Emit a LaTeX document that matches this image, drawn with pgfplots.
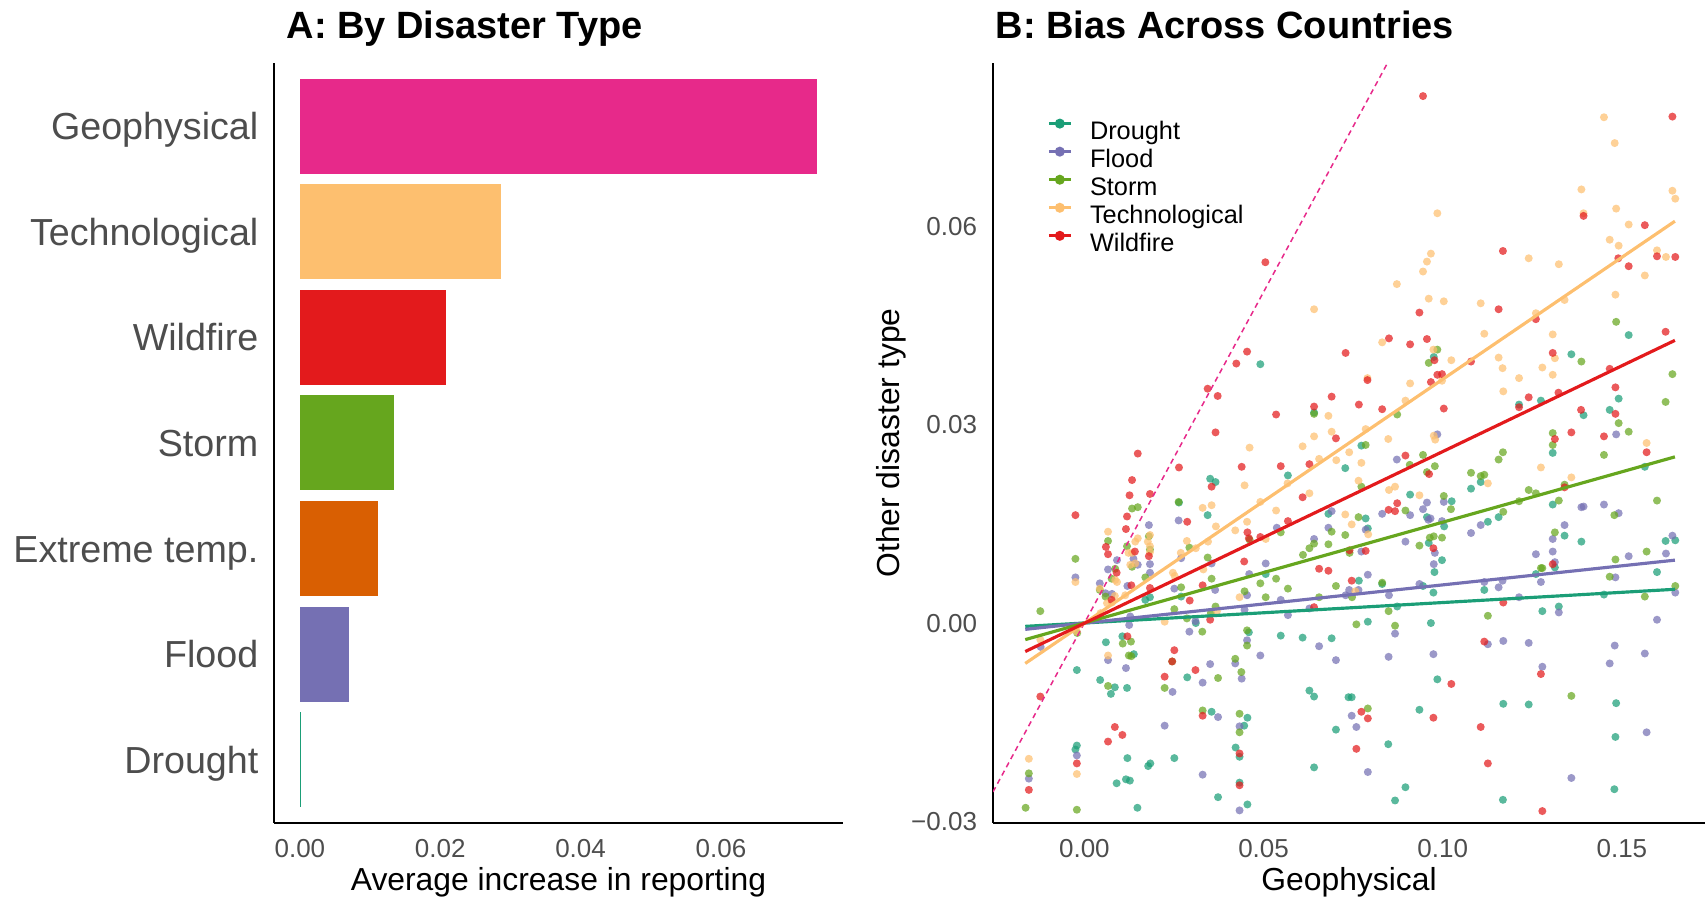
\documentclass[border=0pt]{standalone}
\usepackage{pgfplots}
\usepackage{pgfplotstable}
\pgfplotsset{compat=1.18}
\usepackage{fontspec}
\setmainfont{Liberation Sans}
\definecolor{cgeo}{HTML}{E7298A}
\definecolor{ctech}{HTML}{FDBF6F}
\definecolor{cwild}{HTML}{E31A1C}
\definecolor{cstorm}{HTML}{66A61E}
\definecolor{cext}{HTML}{D95F02}
\definecolor{cflood}{HTML}{7570B3}
\definecolor{cdrought}{HTML}{1B9E77}
\definecolor{ticktext}{HTML}{4D4D4D}

\pgfplotstableread{
x y
0.0351 0.0218
0.0366 0.0213
0.0264 0.0182
0.0344 0.0163
0.0183 0.0039
0.0170 0.0035
0.0270 0.0040
0.0311 0.0000
0.0060 -0.0029
0.0106 -0.0020
0.0138 -0.0047
-0.0021 -0.0071
0.0287 -0.0082
0.0044 -0.0086
0.0085 -0.0097
0.0074 -0.0107
0.0119 -0.0098
0.0355 -0.0134
-0.0021 -0.0185
-0.0025 -0.0191
0.0120 -0.0204
0.0251 -0.0204
0.0184 -0.0212
0.0178 -0.0216
0.0090 -0.0242
0.0116 -0.0236
0.0127 -0.0238
0.0373 -0.0263
0.0148 -0.0279
0.0491 0.0391
0.0975 0.0402
0.0641 0.0318
0.0773 0.0268
0.0728 0.0234
0.0568 0.0223
0.0909 0.0194
0.1025 0.0184
0.0681 0.0165
0.0785 0.0158
0.0956 0.0160
0.1004 0.0146
0.0791 0.0143
0.0961 0.0121
0.0998 0.0095
0.0977 0.0077
0.0506 0.0074
0.0766 0.0064
0.0831 0.0059
0.0945 0.0056
0.0974 0.0046
0.0873 0.0025
0.0459 -0.0014
0.0791 0.0002
0.0967 0.0000
0.0548 -0.0019
0.0609 -0.0022
0.0690 -0.0023
0.0985 -0.0085
0.0628 -0.0102
0.0641 -0.0111
0.0737 -0.0112
0.0746 -0.0112
0.0935 -0.0131
0.0455 -0.0143
0.0446 -0.0155
0.0702 -0.0161
0.0848 -0.0183
0.0422 -0.0188
0.0433 -0.0202
0.0641 -0.0218
0.0433 -0.0241
0.0896 -0.0248
0.0455 -0.0274
0.0867 -0.0268
0.1519 0.0435
0.1359 0.0406
0.1274 0.0336
0.1213 0.0330
0.1491 0.0339
0.1393 0.0314
0.1466 0.0322
0.1307 0.0257
0.1106 0.0213
0.1079 0.0203
0.1564 0.0236
0.1307 0.0179
0.1156 0.0160
0.1126 0.0153
0.1340 0.0132
0.1387 0.0123
0.1622 0.0124
0.1649 0.0125
0.1313 0.0084
0.1260 0.0074
0.1598 0.0077
0.1116 0.0050
0.1450 0.0043
0.1278 0.0018
0.1324 0.0025
0.1169 -0.0122
0.1240 -0.0123
0.1484 -0.0121
0.1482 -0.0172
0.1479 -0.0251
0.1168 -0.0267
}\drought

\pgfplotstableread{
x y
0.0180 0.0148
0.0263 0.0155
0.0137 0.0097
0.0091 0.0095
0.0270 0.0098
0.0149 0.0088
0.0183 0.0089
0.0066 0.0081
0.0355 0.0090
-0.0025 0.0069
0.0183 0.0076
0.0043 0.0060
0.0120 0.0056
0.0365 0.0050
0.0059 0.0045
0.0077 0.0044
0.0251 0.0052
0.0128 0.0010
0.0125 -0.0003
0.0310 0.0003
0.0293 -0.0013
-0.0122 -0.0036
0.0066 -0.0056
0.0351 -0.0062
0.0116 -0.0068
0.0330 -0.0090
0.0246 -0.0104
0.0373 -0.0142
0.0224 -0.0155
-0.0021 -0.0200
-0.0155 -0.0235
0.0330 -0.0229
0.0985 0.0285
0.0872 0.0247
0.0956 0.0182
0.1003 0.0183
0.0690 0.0169
0.0831 0.0165
0.0909 0.0163
0.0945 0.0172
0.0960 0.0156
0.0966 0.0158
0.0998 0.0154
0.0537 0.0144
0.0681 0.0144
0.0785 0.0141
0.0641 0.0127
0.0896 0.0123
0.0773 0.0108
0.0978 0.0106
0.0506 0.0090
0.0975 0.0089
0.0460 0.0074
0.0791 0.0073
0.0935 0.0059
0.0739 0.0050
0.0765 0.0050
0.0729 0.0042
0.0454 0.0042
0.0548 0.0035
0.0850 0.0042
0.0628 0.0022
0.0568 0.0012
0.0447 0.0020
0.0867 -0.0016
0.0655 -0.0035
0.0454 -0.0026
0.0491 -0.0049
0.0702 -0.0056
0.0849 -0.0051
0.0974 -0.0047
0.0421 -0.0061
0.0439 -0.0084
0.0746 -0.0140
0.0759 -0.0157
0.0433 -0.0156
0.0791 -0.0225
0.0433 -0.0283
0.1484 0.0285
0.1387 0.0175
0.1393 0.0176
0.1450 0.0179
0.1491 0.0166
0.1106 0.0148
0.1079 0.0136
0.1340 0.0148
0.1307 0.0127
0.1260 0.0104
0.1307 0.0108
0.1641 0.0132
0.1623 0.0105
0.1519 0.0101
0.1313 0.0092
0.1274 0.0062
0.1116 0.0062
0.1156 0.0054
0.1167 0.0064
0.1482 0.0069
0.1649 0.0046
0.1213 0.0039
0.1324 0.0016
0.1598 0.0005
0.1126 -0.0032
0.1169 -0.0027
0.1240 -0.0030
0.1480 -0.0034
0.1564 -0.0046
0.1466 -0.0061
0.1278 -0.0066
0.1569 -0.0165
0.1359 -0.0234
}\flood

\pgfplotstableread{
x y
0.0263 0.0183
0.0133 0.0173
0.0149 0.0175
0.0180 0.0131
0.0066 0.0124
0.0119 0.0116
0.0183 0.0111
0.0293 0.0114
-0.0025 0.0097
0.0344 0.0099
0.0133 0.0085
0.0086 0.0082
0.0170 0.0069
0.0076 0.0067
0.0043 0.0050
0.0355 0.0067
0.0270 0.0054
0.0059 0.0040
-0.0123 0.0018
0.0251 0.0021
0.0366 0.0025
0.0286 0.0007
0.0353 0.0015
0.0329 -0.0013
-0.0020 -0.0015
0.0107 -0.0031
0.0130 -0.0028
0.0124 -0.0049
0.0131 -0.0050
0.0245 -0.0058
0.0373 -0.0083
0.0066 -0.0095
0.0224 -0.0098
0.0330 -0.0132
-0.0155 -0.0227
-0.0164 -0.0279
-0.0021 -0.0282
0.0985 0.0413
0.0961 0.0393
0.0641 0.0316
0.0873 0.0315
0.0785 0.0269
0.0945 0.0254
0.0908 0.0239
0.0956 0.0228
0.0978 0.0237
0.0773 0.0206
0.1003 0.0192
0.0896 0.0170
0.0765 0.0160
0.1023 0.0172
0.0548 0.0137
0.0690 0.0138
0.0728 0.0133
0.0461 0.0126
0.0641 0.0120
0.0628 0.0113
0.0610 0.0103
0.0681 0.0119
0.0964 0.0129
0.0975 0.0131
0.0998 0.0129
0.0935 0.0117
0.0740 0.0106
0.0491 0.0060
0.0535 0.0067
0.0568 0.0052
0.0702 0.0056
0.0831 0.0061
0.0747 0.0039
0.0447 0.0048
0.0506 0.0039
0.0655 0.0039
0.0849 0.0018
0.0454 -0.0011
0.0759 -0.0002
0.0867 -0.0004
0.0454 -0.0034
0.0421 -0.0054
0.0438 -0.0074
0.0791 -0.0129
0.0433 -0.0137
0.0433 -0.0165
0.1484 0.0455
0.1387 0.0395
0.1641 0.0376
0.1622 0.0334
0.1491 0.0302
0.1519 0.0289
0.1307 0.0287
0.1307 0.0269
0.1168 0.0258
0.1156 0.0247
0.1450 0.0254
0.1079 0.0227
0.1106 0.0222
0.1116 0.0224
0.1340 0.0209
0.1240 0.0201
0.1260 0.0196
0.1213 0.0184
0.1324 0.0185
0.1479 0.0163
0.1598 0.0185
0.1169 0.0168
0.1313 0.0137
0.1569 0.0108
0.1482 0.0096
0.1274 0.0083
0.1278 0.0083
0.1466 0.0070
0.1649 0.0056
0.1564 0.0040
0.1126 0.0011
0.1359 -0.0110
}\storm

\pgfplotstableread{
x y
0.0330 0.0174
0.0355 0.0178
0.0367 0.0146
0.0066 0.0138
0.0149 0.0128
0.0183 0.0133
0.0142 0.0123
0.0286 0.0124
0.0177 0.0123
0.0183 0.0116
0.0311 0.0113
0.0345 0.0123
0.0123 0.0106
0.0133 0.0106
0.0183 0.0107
0.0269 0.0106
0.0142 0.0090
0.0128 0.0088
0.0332 0.0081
-0.0025 0.0062
0.0247 0.0076
0.0091 0.0062
0.0252 0.0071
0.0086 0.0065
0.0043 0.0052
0.0085 0.0041
0.0114 0.0042
0.0063 0.0030
0.0077 0.0031
0.0045 0.0015
0.0224 0.0002
0.0370 0.0018
-0.0123 -0.0025
-0.0021 -0.0013
0.0066 -0.0049
-0.0155 -0.0205
-0.0021 -0.0228
0.0985 0.0619
0.0967 0.0558
0.0956 0.0546
0.0945 0.0531
0.0872 0.0512
0.0961 0.0490
0.1003 0.0486
0.0641 0.0474
0.0831 0.0424
0.0974 0.0413
0.1024 0.0397
0.0790 0.0370
0.0909 0.0362
0.0998 0.0366
0.0681 0.0313
0.0896 0.0336
0.0785 0.0293
0.0641 0.0282
0.0690 0.0289
0.0848 0.0278
0.0975 0.0283
0.0979 0.0277
0.0461 0.0265
0.0609 0.0267
0.0655 0.0248
0.0703 0.0246
0.0739 0.0258
0.0773 0.0242
0.0447 0.0208
0.0567 0.0211
0.0765 0.0215
0.0850 0.0201
0.0867 0.0206
0.0935 0.0193
0.0628 0.0196
0.0491 0.0183
0.0535 0.0170
0.0728 0.0164
0.0454 0.0153
0.0746 0.0149
0.0421 0.0140
0.0506 0.0127
0.0792 0.0134
0.0756 0.0048
0.0433 0.0039
0.1450 0.0764
0.1480 0.0725
0.1387 0.0655
0.1641 0.0653
0.1649 0.0641
0.1484 0.0626
0.1393 0.0619
0.1519 0.0602
0.1466 0.0579
0.1491 0.0570
0.1240 0.0551
0.1324 0.0542
0.1598 0.0563
0.1623 0.0553
0.1564 0.0525
0.1482 0.0496
0.1106 0.0483
0.1340 0.0488
0.1260 0.0468
0.1116 0.0437
0.1307 0.0436
0.1156 0.0401
0.1167 0.0385
0.1313 0.0400
0.1278 0.0386
0.1307 0.0375
0.1213 0.0370
0.1169 0.0350
0.1569 0.0272
0.1126 0.0211
0.1274 0.0235
0.1359 0.0220
}\tech

\pgfplotstableread{
x y
0.0344 0.0354
0.0372 0.0343
0.0366 0.0288
0.0149 0.0256
0.0264 0.0235
0.0133 0.0216
0.0355 0.0206
0.0126 0.0193
0.0183 0.0195
-0.0025 0.0163
0.0119 0.0161
0.0287 0.0153
0.0116 0.0142
0.0060 0.0115
0.0066 0.0104
0.0141 0.0108
0.0180 0.0101
0.0090 0.0076
0.0131 0.0057
0.0330 0.0057
0.0183 0.0053
0.0076 0.0035
0.0294 0.0034
0.0351 0.0005
0.0120 -0.0020
0.0251 -0.0041
0.0245 -0.0058
0.0310 -0.0071
0.0224 -0.0081
-0.0123 -0.0111
0.0330 -0.0140
0.0085 -0.0157
0.0106 -0.0169
0.0066 -0.0179
-0.0021 -0.0212
-0.0155 -0.0252
0.0945 0.0796
0.0935 0.0469
0.0505 0.0545
0.0850 0.0430
0.0956 0.0429
0.0909 0.0421
0.0454 0.0410
0.0729 0.0408
0.0424 0.0392
0.0977 0.0397
0.0790 0.0367
0.0967 0.0364
0.0985 0.0375
0.0998 0.0376
0.0690 0.0342
0.0641 0.0327
0.0535 0.0315
0.0766 0.0330
0.0831 0.0323
0.1003 0.0324
0.0702 0.0279
0.0439 0.0236
0.0548 0.0237
0.0628 0.0240
0.0896 0.0253
0.0962 0.0225
0.0609 0.0190
0.0873 0.0181
0.0849 0.0171
0.0867 0.0169
0.0568 0.0154
0.0455 0.0137
0.0459 0.0128
0.0491 0.0130
0.0740 0.0110
0.0785 0.0109
0.0974 0.0113
0.0446 0.0093
0.0655 0.0082
0.0681 0.0079
0.0746 0.0064
0.0641 0.0024
0.1024 -0.0092
0.0773 -0.0134
0.0791 -0.0144
0.0974 -0.0143
0.0759 -0.0190
0.0433 -0.0197
0.0433 -0.0245
0.1641 0.0765
0.1393 0.0615
0.1564 0.0601
0.1168 0.0562
0.1598 0.0554
0.1649 0.0553
0.1490 0.0551
0.1519 0.0539
0.1156 0.0474
0.1260 0.0459
0.1622 0.0440
0.1079 0.0395
0.1307 0.0408
0.1466 0.0384
0.1482 0.0356
0.1240 0.0341
0.1323 0.0348
0.1213 0.0326
0.1386 0.0322
0.1482 0.0316
0.1450 0.0282
0.1359 0.0288
0.1313 0.0278
0.1569 0.0258
0.1340 0.0205
0.1307 0.0089
0.1169 0.0031
0.1116 -0.0028
0.1274 -0.0077
0.1106 -0.0157
0.1126 -0.0212
0.1278 -0.0284
}\wild

\begin{document}
\begin{tikzpicture}
\useasboundingbox (0,0) rectangle (511.5pt,269.7pt);
% ---------------- Panel A ----------------
\begin{axis}[
  at={(82.2pt,22.8pt)}, anchor=south west,
  width=170.7pt, height=228pt, scale only axis,
  xbar, bar width=0.9, bar shift=0pt,
  xmin=-0.00369, xmax=0.0774,
  ymin=0.4, ymax=7.6,
  axis x line*=bottom, axis y line*=left,
  axis line style={line width=0.8pt, -},
  major tick length=0pt,
  scaled ticks=false,
  every axis title shift=0pt,
  /pgf/number format/assume math mode=true,
  xtick={0,0.02,0.04,0.06},
  xticklabels={0.00,0.02,0.04,0.06},
  ytick={1,2,3,4,5,6,7},
  yticklabels={Drought,Flood,Extreme temp.,Storm,Wildfire,Technological,Geophysical},
  xticklabel style={font=\fontsize{7.8}{9}\selectfont, text=ticktext, anchor=north, inner sep=0pt, yshift=-4.8pt},
  yticklabel style={font=\fontsize{11.3}{13}\selectfont, text=ticktext, anchor=base east, inner sep=0pt, xshift=-4.5pt, yshift=-4.05pt},
  xlabel={Average increase in reporting},
  xlabel style={at={([yshift=-20.4pt]axis description cs:0.5,0)}, anchor=base, font=\fontsize{9.55}{11}\selectfont, inner sep=0pt},
  title={A: By Disaster Type},
  title style={at={([xshift=3.6pt,yshift=7.2pt]axis description cs:0,1)}, anchor=base west, font=\bfseries\fontsize{11.4}{13}\selectfont, inner sep=0pt},
]
\addplot[fill=cdrought, draw=none] coordinates {(0.00012,1)};
\addplot[fill=cflood, draw=none] coordinates {(0.0070,2)};
\addplot[fill=cext, draw=none] coordinates {(0.0112,3)};
\addplot[fill=cstorm, draw=none] coordinates {(0.0134,4)};
\addplot[fill=cwild, draw=none] coordinates {(0.0208,5)};
\addplot[fill=ctech, draw=none] coordinates {(0.0287,6)};
\addplot[fill=cgeo, draw=none] coordinates {(0.0737,7)};
\end{axis}
% ---------------- Panel B ----------------
\begin{axis}[
  at={(297.9pt,22.8pt)}, anchor=south west,
  width=213.6pt, height=228pt, scale only axis,
  xmin=-0.0255, xmax=0.1732,
  ymin=-0.0302, ymax=0.0846,
  axis x line*=bottom, axis y line*=left,
  axis line style={line width=0.8pt, -},
  major tick length=0pt,
  scaled ticks=false,
  every axis title shift=0pt,
  clip mode=individual,
  /pgf/number format/assume math mode=true,
  xtick={0,0.05,0.10,0.15},
  xticklabels={0.00,0.05,0.10,0.15},
  ytick={-0.03,0,0.03,0.06},
  yticklabels={−0.03,0.00,0.03,0.06},
  xticklabel style={font=\fontsize{7.8}{9}\selectfont, text=ticktext, anchor=north, inner sep=0pt, yshift=-4.8pt},
  yticklabel style={font=\fontsize{7.8}{9}\selectfont, text=ticktext, anchor=base east, inner sep=0pt, xshift=-4.6pt, yshift=-2.8pt},
  xlabel={Geophysical},
  xlabel style={at={([yshift=-20.4pt]axis description cs:0.5,0)}, anchor=base, font=\fontsize{9.55}{11}\selectfont, inner sep=0pt},
  ylabel={Other disaster type},
  ylabel style={at={([xshift=-28.2pt]axis description cs:0,0.5)}, anchor=base, rotate=0, font=\fontsize{9.55}{11}\selectfont, inner sep=0pt},
  title={B: Bias Across Countries},
  title style={at={([xshift=0.6pt,yshift=7.2pt]axis description cs:0,1)}, anchor=base west, font=\bfseries\fontsize{11.4}{13}\selectfont, inner sep=0pt},
  legend cell align=left,
  legend style={at={(axis description cs:0.0763,0.9267)}, anchor=north west,
    draw=none, fill=none, inner sep=0pt, outer sep=0pt,
    font=\fontsize{7.6}{9}\selectfont, row sep=0.7pt,
    nodes={inner sep=0pt, text height=5.44pt, text depth=1.6pt},
    /tikz/every odd column/.append style={column sep=5.3pt}},
  legend image code/.code={\draw[line width=0.9pt] (0pt,2.72pt) -- (6.6pt,2.72pt); \fill (3.3pt,2.72pt) circle (1.0pt);},
]
\addplot[only marks, mark=*, mark size=1.2pt, color=cdrought, mark options={solid, draw opacity=0, fill opacity=0.72}, forget plot] table {\drought};
\addplot[only marks, mark=*, mark size=1.2pt, color=cflood, mark options={solid, draw opacity=0, fill opacity=0.72}, forget plot] table {\flood};
\addplot[only marks, mark=*, mark size=1.2pt, color=cstorm, mark options={solid, draw opacity=0, fill opacity=0.72}, forget plot] table {\storm};
\addplot[only marks, mark=*, mark size=1.2pt, color=ctech, mark options={solid, draw opacity=0, fill opacity=0.72}, forget plot] table {\tech};
\addplot[only marks, mark=*, mark size=1.2pt, color=cwild, mark options={solid, draw opacity=0, fill opacity=0.72}, forget plot] table {\wild};
\addplot[cgeo, line width=0.45pt, dash pattern=on 1.6pt off 1.2pt, forget plot] coordinates {(-0.0255,-0.0255) (0.0846,0.0846)};
\addplot[color=cdrought, line width=0.95pt, no markers] coordinates {(-0.0165,-0.0005) (0.1648,0.0051)};
\addlegendentry{Drought}
\addplot[color=cflood, line width=0.95pt, no markers] coordinates {(-0.0165,-0.00095) (0.1648,0.0095)};
\addlegendentry{Flood}
\addplot[color=cstorm, line width=0.95pt, no markers] coordinates {(-0.0165,-0.0025) (0.1648,0.0251)};
\addlegendentry{Storm}
\addplot[color=ctech, line width=0.95pt, no markers] coordinates {(-0.0165,-0.0061) (0.1648,0.0607)};
\addlegendentry{Technological}
\addplot[color=cwild, line width=0.95pt, no markers] coordinates {(-0.0165,-0.0043) (0.1648,0.0427)};
\addlegendentry{Wildfire}
\end{axis}
\end{tikzpicture}
\end{document}
